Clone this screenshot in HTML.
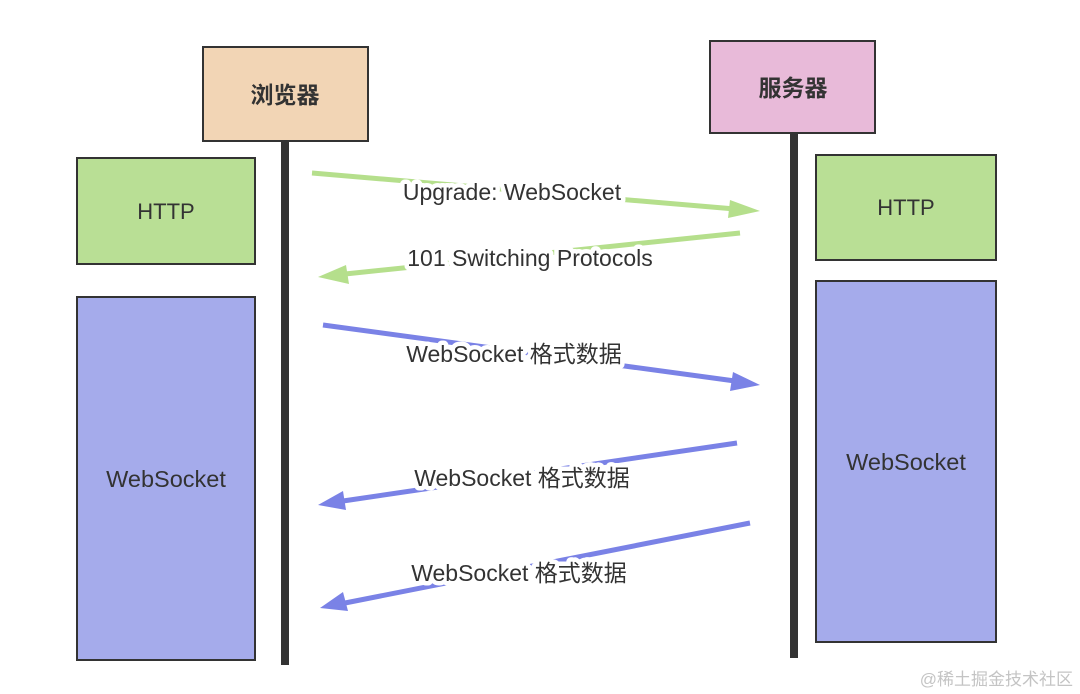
<!DOCTYPE html>
<html><head><meta charset="utf-8"><style>
html,body{margin:0;padding:0;background:#fff;}
svg{display:block}
text{font-family:"Liberation Sans","Noto Sans CJK SC",sans-serif;fill:#333;}
.lbl{font-size:23px;stroke:#fff;stroke-width:9px;paint-order:stroke;stroke-linejoin:round}
</style></head><body>
<svg width="1080" height="694" viewBox="0 0 1080 694" xmlns="http://www.w3.org/2000/svg">
<rect x="281" y="139" width="8" height="526" fill="#333"/>
<rect x="790" y="132" width="8" height="526" fill="#333"/>
<rect x="203" y="47" width="165" height="94" fill="#f2d5b5" stroke="#333" stroke-width="2"/>
<text x="285" y="103" font-size="23" font-weight="bold" text-anchor="middle">浏览器</text>
<rect x="710" y="41" width="165" height="92" fill="#e8bad9" stroke="#333" stroke-width="2"/>
<text x="793" y="96" font-size="23" font-weight="bold" text-anchor="middle">服务器</text>
<rect x="77" y="158" width="178" height="106" fill="#b9df95" stroke="#333" stroke-width="2"/>
<text x="166" y="219" font-size="22" text-anchor="middle">HTTP</text>
<rect x="77" y="297" width="178" height="363" fill="#a5abeb" stroke="#333" stroke-width="2"/>
<text x="166" y="487" font-size="23.5" text-anchor="middle">WebSocket</text>
<rect x="816" y="155" width="180" height="105" fill="#b9df95" stroke="#333" stroke-width="2"/>
<text x="906" y="215" font-size="22" text-anchor="middle">HTTP</text>
<rect x="816" y="281" width="180" height="361" fill="#a5abeb" stroke="#333" stroke-width="2"/>
<text x="906" y="470" font-size="23.5" text-anchor="middle">WebSocket</text>
<g stroke-width="5" fill="none">
<line x1="312" y1="173" x2="735" y2="209" stroke="#b5df8c"/>
<line x1="740" y1="233" x2="345" y2="274" stroke="#b5df8c"/>
<line x1="323" y1="325" x2="735" y2="381" stroke="#7a82e6"/>
<line x1="737" y1="443" x2="343" y2="501" stroke="#7a82e6"/>
<line x1="750" y1="523" x2="345" y2="603" stroke="#7a82e6"/>
</g>
<polygon points="760,211 730,200 728,218" fill="#b5df8c"/>
<polygon points="318,277 346,265 349,284" fill="#b5df8c"/>
<polygon points="760,385 733,372 730,391" fill="#7a82e6"/>
<polygon points="318,505 343,491 346,510" fill="#7a82e6"/>
<polygon points="320,608 343,592 348,611" fill="#7a82e6"/>
<text class="lbl" x="512" y="200" text-anchor="middle">Upgrade: WebSocket</text>
<text class="lbl" x="530" y="266" text-anchor="middle">101 Switching Protocols</text>
<text class="lbl" x="514" y="362" text-anchor="middle">WebSocket 格式数据</text>
<text class="lbl" x="522" y="486" text-anchor="middle">WebSocket 格式数据</text>
<text class="lbl" x="519" y="581" text-anchor="middle">WebSocket 格式数据</text>
<text x="1073" y="685" font-size="17" style="fill:#c4c4c4" text-anchor="end">@稀土掘金技术社区</text>
</svg>
</body></html>
